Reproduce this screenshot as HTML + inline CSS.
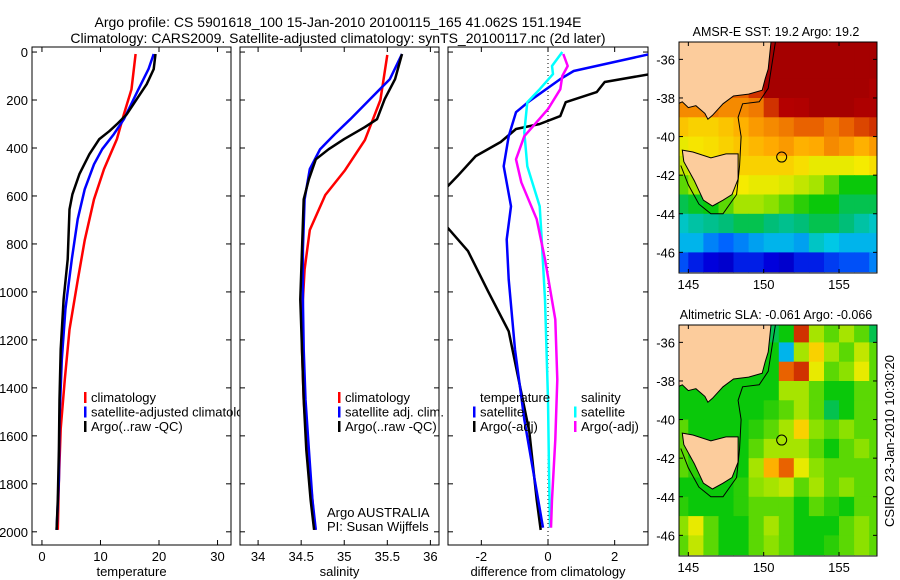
<!DOCTYPE html>
<html><head><meta charset="utf-8">
<style>
html,body{margin:0;padding:0;background:#fff;}
svg{display:block;font-family:"Liberation Sans",sans-serif;}
</style></head>
<body>
<svg id="fig" width="900" height="580" viewBox="0 0 900 580" xmlns="http://www.w3.org/2000/svg">
<rect width="900" height="580" fill="#fff"/>
<text x="338" y="27" font-size="14" text-anchor="middle">Argo profile: CS 5901618_100 15-Jan-2010 20100115_165 41.062S 151.194E</text>
<text x="338" y="43" font-size="14" text-anchor="middle">Climatology: CARS2009. Satellite-adjusted climatology: synTS_20100117.nc (2d later)</text>
<g id="panels"></g>
<g id="maps"></g>
<text transform="translate(894,441) rotate(-90)" font-size="13" text-anchor="middle">CSIRO 23-Jan-2010 10:30:20</text>
</svg>
<script>
// ---------- profile data ----------
const tArgoDepth=[8,71,134,196,259,301,330,363,426,509,593,656,864,1031,1240,1449,1658,1866,1992];
const tArgo=[19.4,19.1,17.9,16.2,14.5,12.8,11.5,9.8,8.1,6.4,5.2,4.7,4.4,3.7,3.2,3.0,2.9,2.7,2.5];
const tClimDepth=[8,155,259,363,488,614,785,952,1157,1365,1570,1783,1992];
const tClim=[16.0,15.3,14.0,12.8,10.6,8.9,7.3,6.1,4.7,3.9,3.2,2.9,2.7];
const tSatDepth=[8,71,155,280,342,405,468,572,697,864,1073,1282,1532,1783,1992];
const tSat=[19.1,18.2,16.5,14.0,12.3,10.3,8.9,7.3,6.1,5.1,4.0,3.4,3.0,2.9,2.5];

const sArgoDepth=[8,113,196,280,313,363,405,447,530,614,823,1031,1240,1449,1658,1866,1992];
const sArgo=[35.67,35.59,35.47,35.38,35.24,35.0,34.82,34.67,34.59,34.53,34.51,34.49,34.51,34.53,34.56,34.61,34.65];
const sClimDepth=[12,200,367,492,596,742,906,1031,1240,1449,1658,1866,1992];
const sClim=[35.5,35.42,35.24,35.01,34.78,34.6,34.54,34.52,34.51,34.53,34.57,34.63,34.66];
const sSatDepth=[8,113,196,280,342,405,488,614,823,1031,1240,1449,1658,1866,1992];
const sSat=[35.67,35.53,35.30,35.07,34.89,34.72,34.60,34.54,34.52,34.52,34.53,34.55,34.59,34.63,34.67];

const dTArgoDepth=[0,60,92,125,167,209,267,300,321,375,434,518,572,650,718,830,997,1164,1373,1582,1866,1992];
const dTArgo=[4.5,3.6,3.07,1.7,1.46,0.53,0.37,-0.25,-0.96,-1.42,-2.17,-2.72,-3.1,-3.5,-3.1,-2.4,-1.8,-1.18,-0.87,-0.56,-0.34,-0.22];
const dTSatDepth=[8,79,113,205,251,351,476,643,781,948,1240,1532,1783,1983];
const dTSat=[3.07,0.77,0.37,-0.56,-0.96,-1.18,-1.33,-1.11,-1.24,-1.18,-0.99,-0.71,-0.40,-0.15];
const dSSatDepth=[0,58,92,155,209,334,476,643,781,1031,1449,1741,1983];
const dSSat=[0.43,0.12,0.15,-0.25,-0.62,-0.71,-0.62,-0.25,-0.19,-0.09,0.0,0.03,0.06];
const dSArgoDepth=[8,58,100,155,238,292,351,447,543,697,864,1115,1365,1616,1866,1983];
const dSArgo=[0.46,0.59,0.43,0.37,0.0,-0.34,-0.71,-0.96,-0.80,-0.34,-0.09,0.22,0.28,0.22,0.12,0.09];

const depthTicks=[0,200,400,600,800,1000,1200,1400,1600,1800,2000];
const tTicks=[0,10,20,30];
const sTicks=[34,34.5,35,35.5,36];
const dTicks=[-2,0,2];

// ---------- map data (1-degree cells, lon 144.5..157.5, lat -35.5..-46.5) ----------
const mapLons=[144.5,145.5,146.5,147.5,148.5,149.5,150.5,151.5,152.5,153.5,154.5,155.5,156.5,157.5];
const mapLats=[-35.5,-36.5,-37.5,-38.5,-39.5,-40.5,-41.5,-42.5,-43.5,-44.5,-45.5,-46.5];
const sstVals=[
[.9,.9,.9,.9,.9,.9,1,1,1,1,1,1,1,1],
[.9,.9,.9,.9,.9,.9,1,1,1,1,1,1,1,1],
[.85,.85,.85,.85,.85,.9,1,1,1,1,1,1,1,.97],
[.8,.8,.82,.8,.8,.82,.9,.95,.96,1,1,1,.97,.97],
[.72,.7,.7,.72,.75,.78,.8,.82,.85,.85,.82,.85,.88,.9],
[.65,.67,.68,.7,.72,.74,.76,.78,.75,.76,.8,.78,.75,.78],
[.62,.64,.66,.68,.7,.7,.7,.7,.68,.65,.65,.65,.66,.68],
[.55,.6,.62,.64,.66,.65,.65,.64,.62,.6,.55,.5,.5,.5],
[.45,.48,.5,.55,.6,.6,.58,.55,.52,.5,.5,.45,.45,.45],
[.35,.38,.4,.42,.45,.45,.42,.4,.42,.45,.45,.42,.38,.35],
[.3,.3,.25,.22,.25,.28,.3,.3,.28,.35,.32,.3,.3,.3],
[.2,.15,.12,.1,.15,.15,.12,.1,.15,.15,.18,.2,.2,.25]];
const slaVals=[
[.5,.5,.5,.5,.5,.5,.45,.5,.9,.6,.55,.6,.55,.45],
[.5,.5,.5,.5,.5,.5,.5,.3,.6,.7,.6,.55,.62,.55],
[.5,.5,.5,.5,.5,.5,.5,.85,.9,.65,.55,.58,.65,.55],
[.5,.5,.5,.5,.5,.5,.5,.6,.6,.55,.5,.5,.55,.55],
[.5,.5,.5,.5,.5,.5,.52,.55,.6,.55,.45,.5,.55,.55],
[.55,.5,.5,.5,.5,.52,.55,.6,.7,.58,.55,.58,.55,.55],
[.55,.5,.5,.5,.5,.55,.6,.6,.6,.55,.5,.55,.58,.55],
[.55,.52,.5,.5,.5,.6,.75,.85,.65,.58,.55,.55,.55,.55],
[.5,.5,.5,.5,.52,.58,.6,.62,.55,.6,.55,.58,.55,.55],
[.52,.5,.5,.5,.52,.55,.55,.55,.5,.55,.52,.5,.55,.55],
[.58,.65,.55,.5,.5,.55,.6,.55,.5,.5,.5,.55,.58,.55],
[.55,.62,.55,.5,.5,.55,.58,.55,.5,.5,.52,.55,.58,.55]];
const mainland=[[144.3,-35],[150.5,-35],[150.3,-36.5],[150.1,-37],[149.9,-37.6],[149,-37.8],[148,-37.9],[147.3,-38.3],[146.6,-38.9],[146.3,-39.1],[146.1,-38.8],[145.5,-38.4],[145,-38.5],[144.6,-38.2],[144.3,-38.3]];
const tasmania=[[144.6,-40.7],[145.3,-40.8],[146.5,-41.1],[147.5,-40.9],[148.3,-40.9],[148.3,-41.5],[148.3,-42.2],[147.9,-43.0],[147.3,-43.3],[146.6,-43.6],[146.0,-43.3],[145.4,-42.3],[144.7,-41.3]];
const isobath=[[150.8,-35],[150.3,-37.5],[149.7,-38.2],[148.6,-38.3],[148.3,-39],[148.5,-40],[148.4,-41.5],[148.2,-43],[147.3,-44],[146.5,-44],[145.7,-43.5],[145,-42.5],[144.5,-41.5]];
const argoPos=[151.194,-41.062];
const lonTicks=[145,150,155];
const latTicks=[-36,-38,-40,-42,-44,-46];

const NS='http://www.w3.org/2000/svg';
function mk(tag,attrs,parent){const e=document.createElementNS(NS,tag);for(const k in attrs)e.setAttribute(k,attrs[k]);parent.appendChild(e);return e;}

const yTop=47,yBot=545;
const dMin=-21,dMax=2055;
function yD(d){return yTop+(d-dMin)/(dMax-dMin)*(yBot-yTop);}

const panelsG=document.getElementById('panels');
function panel(id,x0,x1,xmin,xmax,xticks,xlabel,showY,series,name){
  const g=mk('g',{},panelsG);
  
  
  const xs=v=>x0+(v-xmin)/(xmax-xmin)*(x1-x0);
  const cp=mk('clipPath',{id:'clip'+id},g);
  mk('rect',{x:x0,y:yTop,width:x1-x0,height:yBot-yTop},cp);
  const fr=mk('rect',{x:x0,y:yTop,width:x1-x0,height:yBot-yTop,fill:'#fff',stroke:'#000','stroke-width':1},g);
  
  
  depthTicks.forEach(d=>{
    const y=yD(d);
    mk('line',{x1:x0,y1:y,x2:x0+5,y2:y,stroke:'#000'},g);
    mk('line',{x1:x1,y1:y,x2:x1-5,y2:y,stroke:'#000'},g);
    if(showY){const t=mk('text',{x:x0-4,y:y+5,'font-size':13,'text-anchor':'end'},g);t.textContent=d;
      
      }
  });
  xticks.forEach(v=>{
    const x=xs(v);
    mk('line',{x1:x,y1:yBot,x2:x,y2:yBot-5,stroke:'#000'},g);
    mk('line',{x1:x,y1:yTop,x2:x,y2:yTop+5,stroke:'#000'},g);
    const t=mk('text',{x:x,y:yBot+16,'font-size':13,'text-anchor':'middle'},g);t.textContent=v;
    
    
  });
  const xl=mk('text',{x:(x0+x1)/2,y:576,'font-size':13,'text-anchor':'middle'},g);xl.textContent=xlabel;
  
  
  const lg=mk('g',{'clip-path':'url(#clip'+id+')'},g);
  if(id===3){mk('line',{x1:xs(0),y1:yTop,x2:xs(0),y2:yBot,stroke:'#000','stroke-dasharray':'1,3'},lg);}
  series.forEach(s=>{
    const pts=s.v.map((v,i)=>xs(v).toFixed(1)+','+yD(s.d[i]).toFixed(1));
    const p=mk('polyline',{points:pts.join(' '),fill:'none',stroke:s.c,'stroke-width':2.5,'stroke-linejoin':'round'},lg);
    
    
  });
  return g;
}
function legend(g,x,y,items,name){
  const lg=mk('g',{},g);
  
  
  items.forEach((it,i)=>{
    const yy=y+i*14.5;
    if(it.c)mk('rect',{x:x,y:yy-10,width:2.5,height:11,fill:it.c},lg);
    const t=mk('text',{x:x+7,y:yy,'font-size':13},lg);t.textContent=it.t;
  });
}
panel(1,32,231,-1.7,32.3,tTicks,'temperature',true,[
 {d:tClimDepth,v:tClim,c:'#ff0000',n:'temp-climatology-line'},
 {d:tSatDepth,v:tSat,c:'#0000ff',n:'temp-satellite-line'},
 {d:tArgoDepth,v:tArgo,c:'#000',n:'temp-argo-line'}],'temperature-panel');
legend(panelsG,84,402,[{c:'#ff0000',t:'climatology'},{c:'#0000ff',t:'satellite-adjusted climatology'},{c:'#000',t:'Argo(..raw -QC)'}],'temperature-legend');
panel(2,240,439,33.79,36.1,sTicks,'salinity',false,[
 {d:sClimDepth,v:sClim,c:'#ff0000',n:'sal-climatology-line'},
 {d:sSatDepth,v:sSat,c:'#0000ff',n:'sal-satellite-line'},
 {d:sArgoDepth,v:sArgo,c:'#000',n:'sal-argo-line'}],'salinity-panel');
legend(panelsG,338,402,[{c:'#ff0000',t:'climatology'},{c:'#0000ff',t:'satellite adj. clim.'},{c:'#000',t:'Argo(..raw -QC)'}],'salinity-legend');
const cred=mk('text',{x:327,y:517,'font-size':13},panelsG);cred.textContent='Argo AUSTRALIA';


const cred2=mk('text',{x:327,y:531,'font-size':13},panelsG);cred2.textContent='PI: Susan Wijffels';


panel(3,448,648,-3.0,3.0,dTicks,'difference from climatology',false,[
 {d:dTArgoDepth,v:dTArgo,c:'#000',n:'dtemp-argo-line'},
 {d:dTSatDepth,v:dTSat,c:'#0000ff',n:'dtemp-satellite-line'},
 {d:dSSatDepth,v:dSSat,c:'#00ffff',n:'dsal-satellite-line'},
 {d:dSArgoDepth,v:dSArgo,c:'#ff00ff',n:'dsal-argo-line'}],'difference-panel');
legend(panelsG,473,402,[{c:null,t:'temperature'},{c:'#0000ff',t:'satellite'},{c:'#000',t:'Argo(-adj)'}],'diff-temp-legend');
legend(panelsG,574,402,[{c:null,t:'salinity'},{c:'#00ffff',t:'satellite'},{c:'#ff00ff',t:'Argo(-adj)'}],'diff-sal-legend');

// ---------- maps ----------
const stops=[[0,[0,0,130]],[0.12,[0,0,220]],[0.22,[0,100,255]],[0.32,[0,200,230]],[0.42,[0,190,120]],[0.5,[10,200,10]],[0.58,[140,225,0]],[0.66,[245,235,0]],[0.76,[255,170,0]],[0.86,[230,90,0]],[0.95,[180,0,0]],[1,[165,0,0]]];
function cmap(v){for(let i=1;i<stops.length;i++){if(v<=stops[i][0]){const a=stops[i-1],b=stops[i],f=(v-a[0])/(b[0]-a[0]);return 'rgb('+a[1].map((c,k)=>Math.round(c+(b[1][k]-c)*f)).join(',')+')';}}return 'rgb(165,0,0)';}
const mapsG=document.getElementById('maps');
const mx0=679,mx1=877,lonMin=144.38,lonMax=157.52;
function drawMap(id,yt,vals,title,name){
  const g=mk('g',{},mapsG);
  
  
  const yb=yt+231;
  const latTop=-35.1,latBot=-47.07;
  const X=lon=>mx0+(lon-lonMin)/(lonMax-lonMin)*(mx1-mx0);
  const Y=lat=>yt+(latTop-lat)/(latTop-latBot)*(yb-yt);
  const cp=mk('clipPath',{id:'mclip'+id},g);
  mk('rect',{x:mx0,y:yt,width:mx1-mx0,height:yb-yt},cp);
  const cg=mk('g',{'clip-path':'url(#mclip'+id+')'},g);
  mapLats.forEach((lat,r)=>mapLons.forEach((lon,c)=>{
    const x=X(lon-0.5),y=Y(lat+0.5);
    const cell=mk('rect',{x:x.toFixed(1),y:y.toFixed(1),width:(X(lon+0.5)-x+0.5).toFixed(1),height:(Y(lat-0.5)-y+0.5).toFixed(1),fill:cmap(vals[r][c])},cg);
    
    
  }));
  [mainland,tasmania].forEach((poly,k)=>{
    const p=mk('polygon',{points:poly.map(q=>X(q[0]).toFixed(1)+','+Y(q[1]).toFixed(1)).join(' '),fill:'#fccc9c',stroke:'#000','stroke-width':1},cg);
    
    
  });
  const iso=mk('polyline',{points:isobath.map(q=>X(q[0]).toFixed(1)+','+Y(q[1]).toFixed(1)).join(' '),fill:'none',stroke:'#000','stroke-width':1},cg);
  
  
  const ci=mk('circle',{cx:X(argoPos[0]),cy:Y(argoPos[1]),r:5,fill:'none',stroke:'#000','stroke-width':1},cg);
  
  
  mk('rect',{x:mx0,y:yt,width:mx1-mx0,height:yb-yt,fill:'none',stroke:'#000'},g);
  lonTicks.forEach(l=>{const x=X(l);mk('line',{x1:x,y1:yb,x2:x,y2:yb-4,stroke:'#000'},g);mk('line',{x1:x,y1:yt,x2:x,y2:yt+4,stroke:'#000'},g);
    const t=mk('text',{x:x,y:yb+16,'font-size':13,'text-anchor':'middle'},g);t.textContent=l;
    
    });
  latTicks.forEach(l=>{const y=Y(l);mk('line',{x1:mx0,y1:y,x2:mx0+4,y2:y,stroke:'#000'},g);mk('line',{x1:mx1,y1:y,x2:mx1-4,y2:y,stroke:'#000'},g);
    const t=mk('text',{x:mx0-4,y:y+5,'font-size':13,'text-anchor':'end'},g);t.textContent=l;
    
    });
  const tt=mk('text',{x:(mx0+mx1)/2-2,y:yt-6,'font-size':12.5,'text-anchor':'middle'},g);tt.textContent=title;
  
  
}
drawMap(1,42,sstVals,'AMSR-E SST: 19.2 Argo: 19.2','sst-map');
drawMap(2,325,slaVals,'Altimetric SLA: -0.061 Argo: -0.066','sla-map');
</script>
</body></html>
